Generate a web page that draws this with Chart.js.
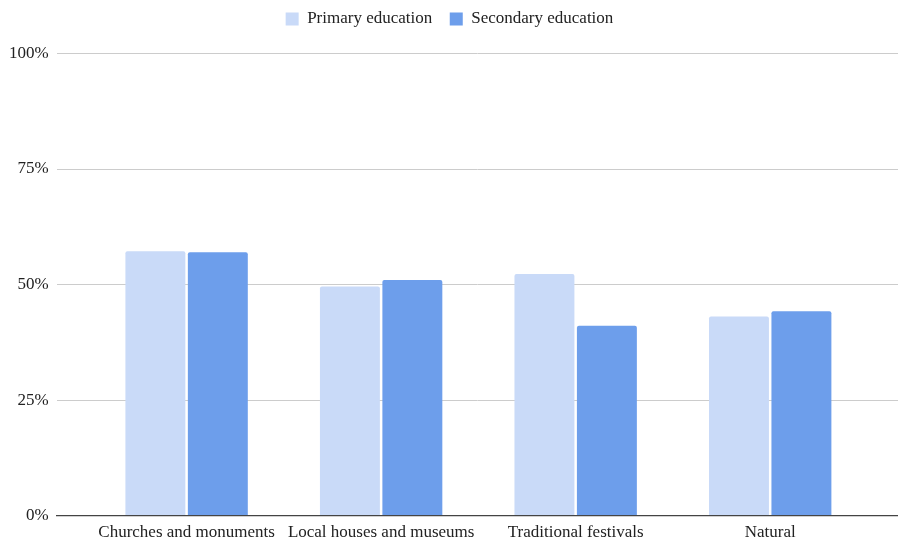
<!DOCTYPE html>
<html>
<head>
<meta charset="utf-8">
<script src="https://cdn.jsdelivr.net/npm/chart.js@4"></script>
<style>
  html, body { margin: 0; padding: 0; background: #fff; }
  #wrap { width: 898px; height: 538px; }
</style>
</head>
<body>
<div id="wrap"><canvas id="chart" width="898" height="538"></canvas></div>
<script>
// Share of responses by heritage type, split by school level (%)
const categories = ['Churches and monuments', 'Local houses and museums', 'Traditional festivals', 'Natural'];
const primaryEducation = [57.2, 49.6, 52.3, 43.1];
const secondaryEducation = [57.0, 51.0, 41.1, 44.2];
const yTicks = [0, 25, 50, 75, 100];

const FONT = "'Liberation Serif', 'Times New Roman', serif";

const toPoints = (vals) => vals.map((v, i) => ({ x: i, y: v }));

// Adds extra room between the legend row and the plot area
const legendGap = {
  id: 'legendGap',
  beforeUpdate(chart, args, opts) {
    const legend = chart.legend;
    if (legend && !legend._gapPatched) {
      const fit = legend.fit;
      legend.fit = function () {
        fit.call(this);
        this.height += opts.gap || 0;
      };
      legend._gapPatched = true;
    }
  }
};

new Chart(document.getElementById('chart'), {
  type: 'bar',
  data: {
    datasets: [
      {
        label: 'Primary education',
        data: toPoints(primaryEducation),
        backgroundColor: '#c9daf8',
        borderRadius: 2,
        borderSkipped: 'bottom',
        categoryPercentage: 0.642,
        barPercentage: 0.96
      },
      {
        label: 'Secondary education',
        data: toPoints(secondaryEducation),
        backgroundColor: '#6d9eeb',
        borderRadius: 2,
        borderSkipped: 'bottom',
        categoryPercentage: 0.642,
        barPercentage: 0.96
      }
    ]
  },
  plugins: [legendGap],
  options: {
    responsive: false,
    animation: false,
    layout: { padding: { left: 1, right: 0, top: -7, bottom: -12 } },
    plugins: {
      tooltip: { enabled: false },
      legendGap: { gap: 16 },
      legend: {
        position: 'top',
        align: 'center',
        labels: {
          color: '#222',
          font: { family: FONT, size: 17 },
          boxWidth: 13,
          boxHeight: 13,
          padding: 17.5
        }
      }
    },
    scales: {
      x: {
        type: 'linear',
        offset: false,
        min: -0.668,
        max: 3.657,
        grid: { display: false, drawTicks: false, offset: false },
        border: { display: true, color: '#444', width: 1.2 },
        afterBuildTicks: (scale) => {
          scale.ticks = categories.map((_, i) => ({ value: i }));
        },
        ticks: {
          autoSkip: false,
          maxRotation: 0,
          padding: 7,
          color: '#222',
          font: { family: FONT, size: 17 },
          callback: (v) => categories[v]
        }
      },
      y: {
        min: 0,
        max: 100,
        afterBuildTicks: (scale) => {
          scale.ticks = yTicks.map(v => ({ value: v }));
        },
        grid: {
          drawTicks: false,
          color: (ctx) => ctx.tick && ctx.tick.value === 0 ? '#444' : '#cccccc',
          lineWidth: 1
        },
        border: { display: false },
        ticks: {
          padding: 8,
          color: '#222',
          font: { family: FONT, size: 17 },
          callback: (v) => v + '%'
        }
      }
    }
  }
});
</script>
</body>
</html>
